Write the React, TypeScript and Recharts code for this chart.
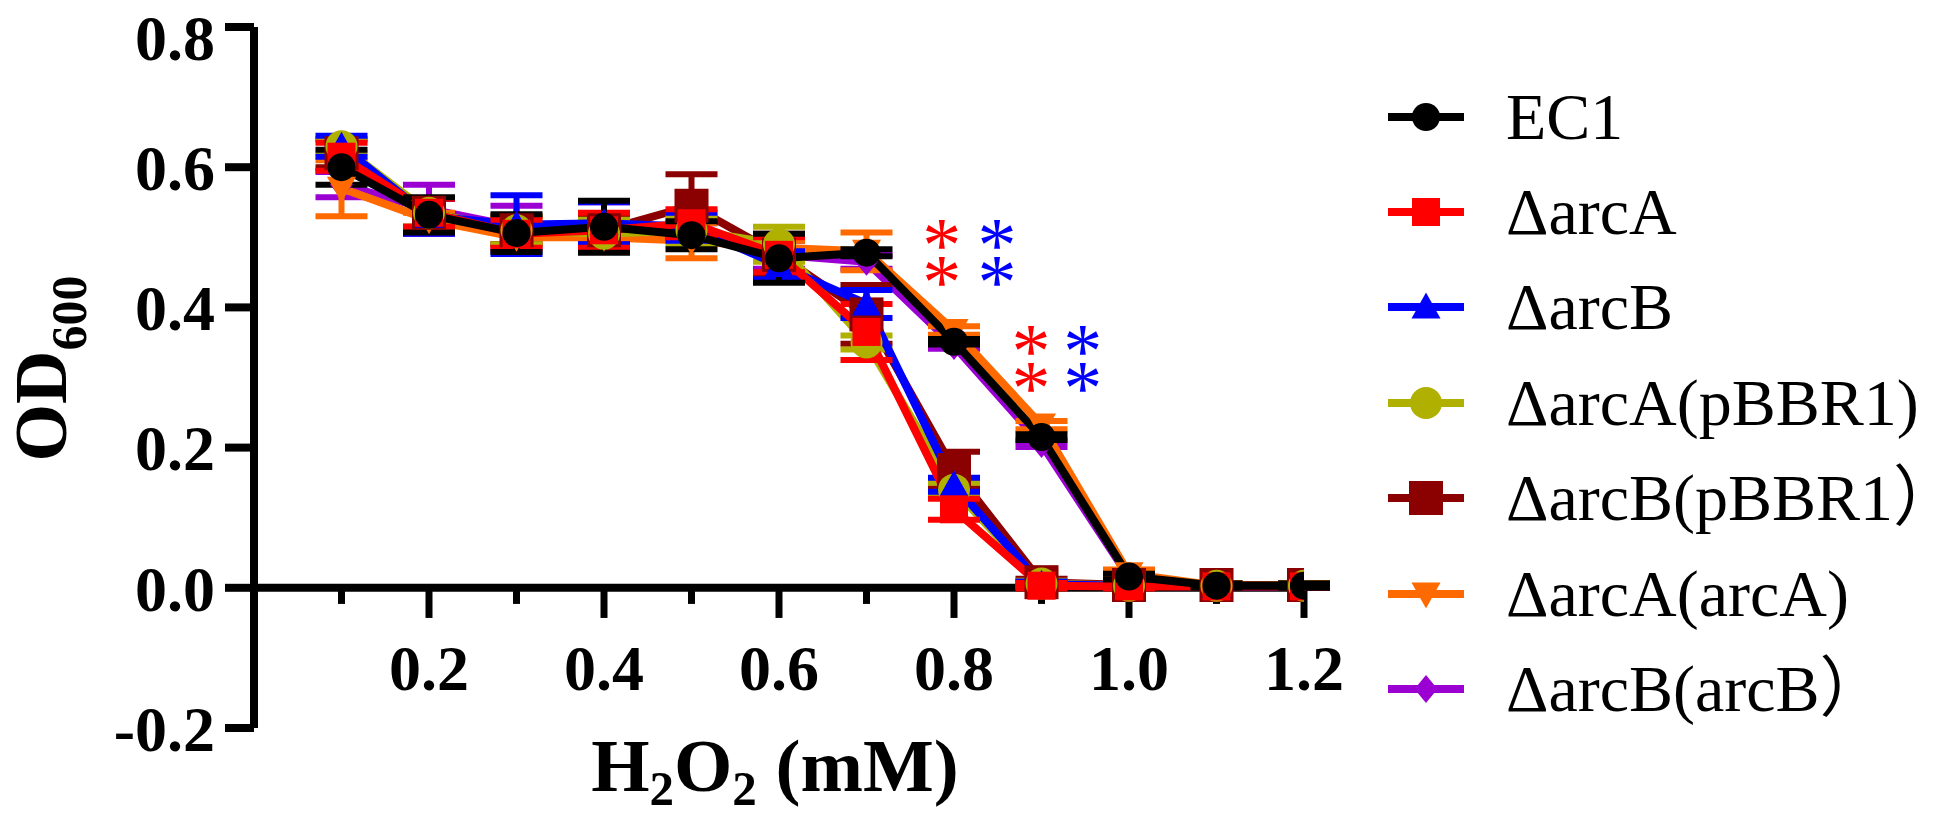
import React from 'react';
import { ComposedChart, Line, XAxis, YAxis, ReferenceLine, ErrorBar, Scatter, Legend } from 'recharts';

// ---- data ----
const xValues = [0.1, 0.2, 0.3, 0.4, 0.5, 0.6, 0.7, 0.8, 0.9, 1.0, 1.1, 1.2];

const ec1 = [0.600, 0.532, 0.506, 0.515, 0.503, 0.470, 0.478, 0.351, 0.215, 0.016, 0.003, 0.003];
const ec1Err = [0.025, 0.025, 0.027, 0.037, 0.02, 0.035, 0.005, 0.004, 0.004, 0.004, 0.003, 0.003];

const arcA = [0.615, 0.535, 0.505, 0.510, 0.520, 0.475, 0.365, 0.112, 0.003, 0.002, 0.002, 0.002];
const arcAErr = [0.02, 0.02, 0.02, 0.025, 0.02, 0.025, 0.04, 0.015, 0.004, 0.003, 0.002, 0.002];

const arcB = [0.630, 0.530, 0.518, 0.520, 0.515, 0.460, 0.405, 0.147, 0.005, 0.003, 0.002, 0.002];
const arcBErr = [0.015, 0.025, 0.042, 0.03, 0.02, 0.02, 0.02, 0.01, 0.004, 0.003, 0.002, 0.002];

const arcApBBR1 = [0.630, 0.535, 0.510, 0.505, 0.510, 0.490, 0.350, 0.140, 0.006, 0.003, 0.003, 0.003];
const arcApBBR1Err = [0.01, 0.02, 0.02, 0.02, 0.02, 0.025, 0.01, 0.01, 0.004, 0.003, 0.003, 0.003];

const arcBpBBR1 = [0.620, 0.535, 0.510, 0.510, 0.545, 0.475, 0.390, 0.168, 0.008, 0.004, 0.004, 0.004];
const arcBpBBR1Err = [0.02, 0.02, 0.02, 0.02, 0.045, 0.03, 0.042, 0.026, 0.005, 0.003, 0.003, 0.003];

const arcAarcA = [0.570, 0.525, 0.500, 0.500, 0.495, 0.485, 0.480, 0.367, 0.232, 0.020, 0.003, 0.003];
const arcAarcAErr = [0.04, 0.01, 0.01, 0.01, 0.025, 0.01, 0.027, 0.006, 0.006, 0.006, 0.003, 0.003];

const arcBarcB = [0.575, 0.540, 0.515, 0.520, 0.510, 0.475, 0.465, 0.345, 0.205, 0.015, 0.003, 0.003];
const arcBarcBErr = [0.018, 0.035, 0.03, 0.03, 0.01, 0.02, 0.01, 0.004, 0.004, 0.004, 0.003, 0.003];

const seriesKeys = ['ec1', 'arcA', 'arcB', 'arcApBBR1', 'arcBpBBR1', 'arcAarcA', 'arcBarcB'];
const seriesValues = [ec1, arcA, arcB, arcApBBR1, arcBpBBR1, arcAarcA, arcBarcB];
const seriesErrors = [ec1Err, arcAErr, arcBErr, arcApBBR1Err, arcBpBBR1Err, arcAarcAErr, arcBarcBErr];
const seriesNames = ['EC1', 'ΔarcA', 'ΔarcB', 'ΔarcA(pBBR1)', 'ΔarcB(pBBR1）', 'ΔarcA(arcA)', 'ΔarcB(arcB）'];
const seriesColors = ['#000000', '#FF0000', '#0000FF', '#B0B000', '#8B0000', '#FF6A00', '#9B00D3'];
const seriesShapes = ['circle', 'square', 'triangle', 'circle', 'square', 'triangleDown', 'diamond'];
const seriesMarkerSizes = [28, 28, 29, 32, 34, 29, 28];
const drawOrder = [6, 5, 4, 3, 2, 1, 0];

const yTicks = [-0.2, 0, 0.2, 0.4, 0.6, 0.8];
const xMajorTicks = [0.2, 0.4, 0.6, 0.8, 1.0, 1.2];
const xMinorTicks = [0.1, 0.3, 0.5, 0.7, 0.9, 1.1];

// significance marks: each column holds two stacked asterisks, y = upper one
const asteriskX = [0.786, 0.849, 0.888, 0.947];
const asteriskY = [0.506, 0.506, 0.355, 0.355];
const asteriskColors = ['#FF0000', '#0000FF', '#FF0000', '#0000FF'];

const tableData = xValues.map((x, i) => {
  const row: any = { x };
  seriesKeys.forEach((k, s) => {
    row[k] = seriesValues[s][i];
    row[k + 'Err'] = seriesErrors[s][i];
  });
  return row;
});

const asteriskData = asteriskX.map((x, i) => ({ x, y: asteriskY[i], color: asteriskColors[i] }));

const SERIF = '"Liberation Serif", "Times New Roman", Times, serif';

function Marker({ shape, cx, cy, size, color }: any) {
  const h = size / 2;
  switch (shape) {
    case 'circle':
      return <circle cx={cx} cy={cy} r={h} fill={color} />;
    case 'square':
      return <rect x={cx - h} y={cy - h} width={size} height={size} fill={color} />;
    case 'triangle':
      return <polygon points={`${cx},${cy - h} ${cx + h},${cy + h * 0.8} ${cx - h},${cy + h * 0.8}`} fill={color} />;
    case 'triangleDown':
      return <polygon points={`${cx},${cy + h} ${cx + h},${cy - h * 0.8} ${cx - h},${cy - h * 0.8}`} fill={color} />;
    case 'diamond':
      return <polygon points={`${cx},${cy - h} ${cx + h * 0.82},${cy} ${cx},${cy + h} ${cx - h * 0.82},${cy}`} fill={color} />;
    default:
      return null;
  }
}

const renderLegend = () => (
  <div
    style={{
      fontFamily: SERIF + ', "Noto Sans CJK SC"',
      fontSize: 66,
      lineHeight: 1,
      color: '#000',
      fontFeatureSettings: '"halt"',
    }}
  >
    {seriesNames.map((n, i) => (
      <div key={n} style={{ display: 'flex', alignItems: 'center', height: 95.4 }}>
        <svg width={76} height={40} style={{ flex: 'none' }}>
          <line x1={0} y1={20} x2={76} y2={20} stroke={seriesColors[i]} strokeWidth={8} />
          <Marker shape={seriesShapes[i]} cx={38} cy={20} size={seriesMarkerSizes[i]} color={seriesColors[i]} />
        </svg>
        <span style={{ marginLeft: 42, whiteSpace: 'nowrap' }}>{n}</span>
      </div>
    ))}
  </div>
);

const YLabel = (props: any) => {
  const vb = props.viewBox || { x: 0, y: 27, width: 254, height: 701 };
  const x = vb.x + 66;
  const y = vb.y + vb.height / 2 - 9;
  return (
    <text transform={`translate(${x},${y}) rotate(-90)`} textAnchor="middle" fontFamily={SERIF} fontWeight="bold" fontSize={74} fill="#000">
      OD<tspan fontSize={50} dy={20}>600</tspan>
    </text>
  );
};

const XLabel = (props: any) => {
  const vb = props.viewBox || { x: 254, y: 728, width: 1050, height: 90 };
  const x = vb.x + vb.width / 2 - 4;
  const y = vb.y + 63;
  return (
    <text x={x} y={y} textAnchor="middle" fontFamily={SERIF} fontWeight="bold" fontSize={75} fill="#000">
      H<tspan fontSize={49} dy={14}>2</tspan>
      <tspan dy={-14}>O</tspan>
      <tspan fontSize={49} dy={14}>2</tspan>
      <tspan dy={-14}> (mM)</tspan>
    </text>
  );
};

const XTick = (props: any) => (
  <text x={props.x} y={props.y} dy={-38} textAnchor="middle" fontFamily={SERIF} fontWeight="bold" fontSize={64} fill="#000">
    {Number(props.payload.value).toFixed(1)}
  </text>
);

// two stacked asterisks in one text node, placed glyph by glyph
const AsteriskShape = (props: any) => {
  const top = props.cy + 38;
  return (
    <text
      x={`${props.cx} ${props.cx}`}
      y={`${top} ${top + 37}`}
      textAnchor="middle"
      fontFamily={SERIF}
      fontSize={78}
      fill={props.payload.color}
    >
      **
    </text>
  );
};

export default function App() {
  return (
    <div style={{ position: 'absolute', left: 0, top: 0, background: '#fff' }}>
      <ComposedChart width={1933} height={818} data={tableData} margin={{ top: 27, right: 629, bottom: 0, left: 0 }}>
        <XAxis
          dataKey="x"
          type="number"
          domain={[0, 1.2]}
          ticks={xMajorTicks}
          axisLine={false}
          tickLine={false}
          tickSize={0}
          tickMargin={0}
          tick={<XTick />}
          height={90}
          label={{ content: <XLabel /> }}
          allowDataOverflow
        />
        <YAxis
          type="number"
          domain={[-0.2, 0.8]}
          ticks={yTicks}
          width={254}
          tickSize={29}
          tickMargin={10}
          axisLine={{ stroke: '#000', strokeWidth: 8 }}
          tickLine={{ stroke: '#000', strokeWidth: 8 }}
          tick={{ fill: '#000', fontFamily: SERIF, fontWeight: 'bold', fontSize: 64 }}
          tickFormatter={(v: number) => v.toFixed(1)}
          label={{ content: <YLabel /> }}
          allowDataOverflow
        />
        <ReferenceLine y={0} stroke="#000" strokeWidth={8} />
        {xMajorTicks.map((t) => (
          <ReferenceLine key={'M' + t} segment={[{ x: t, y: 0 }, { x: t, y: -0.043 }]} stroke="#000" strokeWidth={7} />
        ))}
        {xMinorTicks.map((t) => (
          <ReferenceLine key={'m' + t} segment={[{ x: t, y: 0 }, { x: t, y: -0.023 }]} stroke="#000" strokeWidth={7} />
        ))}
        {drawOrder.map((s) => (
          <Line
            key={seriesKeys[s]}
            dataKey={seriesKeys[s]}
            name={seriesNames[s]}
            stroke={seriesColors[s]}
            strokeWidth={8}
            isAnimationActive={false}
            activeDot={false}
            legendType="none"
            dot={(p: any) => (
              <Marker
                key={`${seriesKeys[s]}-${p.index}`}
                shape={seriesShapes[s]}
                cx={p.cx}
                cy={p.cy}
                size={seriesMarkerSizes[s]}
                color={seriesColors[s]}
              />
            )}
          >
            <ErrorBar dataKey={seriesKeys[s] + 'Err'} direction="y" width={26} strokeWidth={6} stroke={seriesColors[s]} isAnimationActive={false} />
          </Line>
        ))}
        <Scatter data={asteriskData} dataKey="y" isAnimationActive={false} legendType="none" shape={<AsteriskShape />} />
        <Legend
          layout="vertical"
          align="center"
          verticalAlign="middle"
          content={renderLegend}
          wrapperStyle={{ left: 1388, top: 69, width: 545, height: 670 }}
        />
      </ComposedChart>
    </div>
  );
}
